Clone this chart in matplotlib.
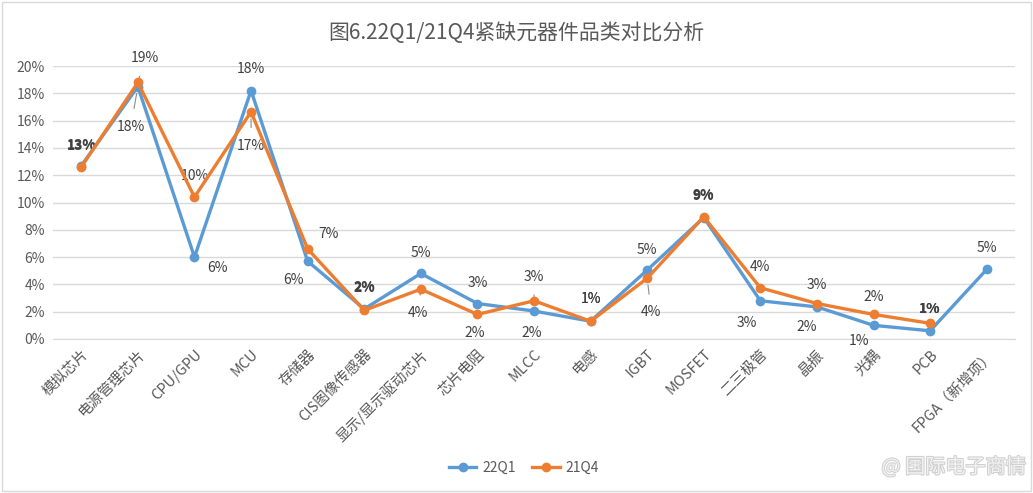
import matplotlib.pyplot as plt
from matplotlib.patches import Rectangle
import matplotlib.patheffects as pe

plt.rcParams['font.family'] = ['Noto Sans CJK SC', 'DejaVu Sans']

categories = ['模拟芯片', '电源管理芯片', 'CPU/GPU', 'MCU', '存储器', 'CIS图像传感器',
              '显示/显示驱动芯片', '芯片电阻', 'MLCC', '电感', 'IGBT', 'MOSFET',
              '二三极管', '晶振', '光耦', 'PCB', 'FPGA（新增项）']
q1_22 = [12.7, 18.5, 6.0, 18.2, 5.7, 2.2, 4.8, 2.6, 2.05, 1.3, 5.05, 8.9,
         2.8, 2.35, 1.0, 0.6, 5.1]
q4_21 = [12.6, 18.8, 10.4, 16.65, 6.6, 2.1, 3.65, 1.8, 2.8, 1.3, 4.45, 8.95,
         3.75, 2.6, 1.8, 1.15]

# label offsets in pixels (dx, dy) and whether a leader line is drawn
q1_off = [(0, 21), (-7, -40), (23, -11), (0, 22), (-14, -19), (0, 22), (0, 20),
          (0, 21), (-2, -22), (0, 22), (0, 20), (0, 22), (-14, -22), (-10, -20),
          (-15, -16), (0, 22), (0, 21)]
q4_off = [(0, 21), (7, 24), (0, 21), (0, -34), (21, 15), (0, 22), (-3, -24),
          (-3, -19), (0, 24), (0, 22), (4, -34), (0, 22), (0, 21), (0, 19),
          (0, 17), (0, 14)]
q1_lead = {1}
q4_lead = {1, 3, 6, 8, 10}

blue = '#5B9BD5'
orange = '#ED7D31'
txt = '#404040'

fig = plt.figure(figsize=(10.33, 4.93), dpi=100)
ax = fig.add_axes([0.0513, 0.3124, 0.9313, 0.5536])

x = list(range(len(categories)))
ax.plot(x, q1_22, color=blue, lw=2.4, marker='o', ms=6, label='22Q1', zorder=3)
ax.plot(x[:len(q4_21)], q4_21, color=orange, lw=2.4, marker='o', ms=6,
        label='21Q4', zorder=4)

def put_labels(vals, offs, leads):
    for i, v in enumerate(vals):
        dx, dy = offs[i]
        bold = (i in (0, 5, 11, 15))
        kw = {}
        if i in leads:
            kw['arrowprops'] = dict(arrowstyle='-', color='#8c8c8c', lw=0.8,
                                    shrinkA=6, shrinkB=5)
        ax.annotate(f'{round(v):.0f}%', (i, v), xytext=(dx, dy),
                    textcoords='offset pixels', ha='center', va='center',
                    fontsize=10, color=txt,
                    fontweight='bold' if bold else 'normal', **kw)

put_labels(q1_22, q1_off, q1_lead)
put_labels(q4_21, q4_off, q4_lead)

ax.set_xlim(-0.5, len(categories) - 0.5)
ax.set_ylim(0, 20)
ax.set_yticks(range(0, 21, 2))
ax.set_yticklabels([f'{t}%' for t in range(0, 21, 2)], fontsize=10, color='#595959')
ax.set_xticks(x)
ax.set_xticklabels(categories, rotation=45, ha='right', rotation_mode='anchor',
                   fontsize=10.5, color='#595959')
ax.tick_params(length=0, pad=6)
ax.grid(axis='y', color='#d9d9d9', lw=1)
ax.set_axisbelow(True)
for s in ['top', 'right', 'left']:
    ax.spines[s].set_visible(False)
ax.spines['bottom'].set_color('#d9d9d9')

fig.text(0.5, 0.933, '图6.22Q1/21Q4紧缺元器件品类对比分析', ha='center', va='center',
         fontsize=15, color='#595959')

fig.legend(loc='center', bbox_to_anchor=(0.507, 0.052), ncol=2, frameon=False,
           fontsize=10, handlelength=2.0, columnspacing=1.2, handletextpad=0.4,
           labelcolor='#595959')

fig.text(0.993, 0.052, '@ 国际电子商情', ha='right', va='center', fontsize=14.5,
         color='#f2f2f2',
         path_effects=[pe.withStroke(linewidth=1.5, foreground='#d0d0d0')])

fig.add_artist(Rectangle((0.002, 0.004), 0.996, 0.992, transform=fig.transFigure,
                         fill=False, edgecolor='#d9d9d9', lw=1))

fig.savefig('out.png', dpi=100)
